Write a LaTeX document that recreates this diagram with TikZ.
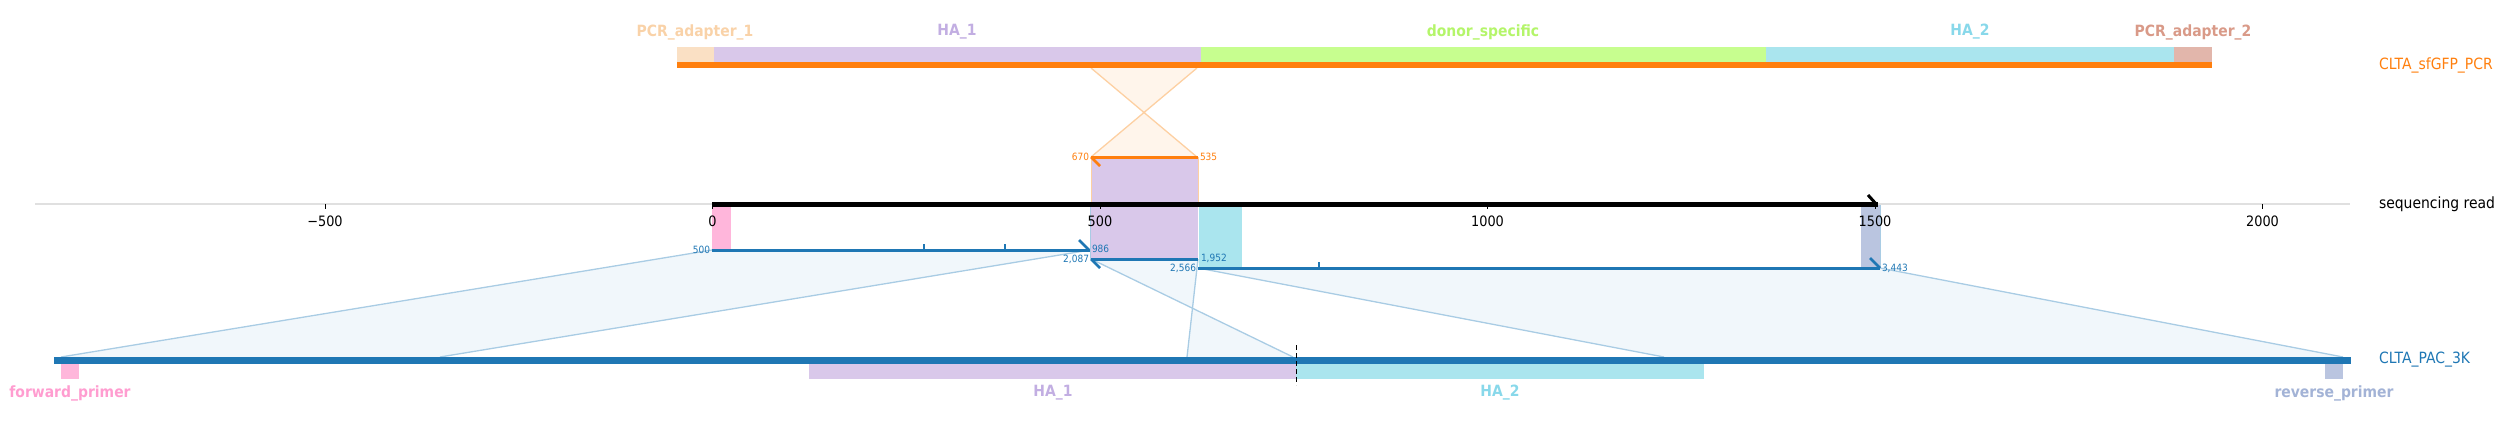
\documentclass[tikz,border=0pt]{standalone}
\usepackage{fontspec}
\setmainfont{DejaVu Sans}[FakeStretch=0.9]
\definecolor{cor}{HTML}{FF7F0E}
\definecolor{cbl}{HTML}{1F77B4}
\definecolor{orfill}{HTML}{FFF5EB}
\definecolor{oredge}{HTML}{FDD0A2}
\definecolor{blfill}{HTML}{F1F7FB}
\definecolor{bledge}{HTML}{A9CCE4}
\definecolor{pcraone}{HTML}{FAE0C4}
\definecolor{pcraonet}{HTML}{F9D2A8}
\definecolor{haone}{HTML}{D9C8EA}
\definecolor{haonet}{HTML}{C2AEE2}
\definecolor{donor}{HTML}{C7FE8F}
\definecolor{donort}{HTML}{B4F56A}
\definecolor{hatwo}{HTML}{AAE5EE}
\definecolor{hatwot}{HTML}{88D8EA}
\definecolor{pcratwo}{HTML}{E2B6AB}
\definecolor{pcratwot}{HTML}{D99A88}
\definecolor{fwd}{HTML}{FFB6DB}
\definecolor{fwdt}{HTML}{FF9DD0}
\definecolor{rev}{HTML}{BAC5E0}
\definecolor{revt}{HTML}{A3B3D6}
\definecolor{axgray}{HTML}{E0E0E0}
\begin{document}
\begin{tikzpicture}[x=1pt,y=-1pt,
  every node/.style={inner sep=0pt,outer sep=0pt},
  featlabel/.style={font=\fontsize{15.5}{15.5}\selectfont\bfseries},
  tracklabel/.style={font=\fontsize{15.5}{15.5}\selectfont,anchor=west},
  ticklabel/.style={font=\fontsize{14.3}{14.3}\selectfont,text=black},
  coord/.style={font=\fontsize{10}{10}\selectfont},
  alnline/.style={line width=3pt,cbl},
  barb/.style={line width=2.5pt},
  link/.style={bledge,line width=1.3pt},
  olink/.style={oredge,line width=1.3pt}]
\useasboundingbox (0,0) rectangle (2504,426);

% ---- link polygons ----
\fill[orfill] (1091,68) -- (1197,157) -- (1091,157) -- (1197,68) -- cycle;
\draw[olink] (1091,68) -- (1197,157) (1197,68) -- (1091,157);
\fill[blfill] (712,250) -- (1090,250) -- (440,357) -- (61,357) -- cycle;
\draw[link] (712,250) -- (61,357) (1090,250) -- (440,357);
\fill[blfill] (1091,259) -- (1293,357) -- (1187,357) -- (1198,259) -- cycle;
\draw[link] (1091,259) -- (1293,357) (1198,259) -- (1187,357);
\fill[blfill] (1198,268) -- (1880,268) -- (2343,357) -- (1664,357) -- cycle;
\draw[link] (1198,268) -- (1664,357) (1880,268) -- (2343,357);

% ---- top track CLTA_sfGFP_PCR ----
\fill[pcraone] (677,47) rectangle (714,62);
\fill[haone] (714,47) rectangle (1201,62);
\fill[donor] (1201,47) rectangle (1766,62);
\fill[hatwo] (1766,47) rectangle (2174,62);
\fill[pcratwo] (2174,47) rectangle (2212,62);
\fill[cor] (677,62) rectangle (2212,68);
\node[featlabel,text=pcraonet] (lpa1) at (695,32) {PCR\_adapter\_1};
\node[featlabel,text=haonet] (lha1t) at (957,32) {HA\_1};
\node[featlabel,text=donort] (ldon) at (1483,32) {donor\_specific};
\node[featlabel,text=hatwot] (lha2t) at (1970,32) {HA\_2};
\node[featlabel,text=pcratwot] (lpa2) at (2193,32) {PCR\_adapter\_2};
\node[tracklabel,text=cor] (tpcr) at (2379,65) {CLTA\_sfGFP\_PCR};

% ---- highlight boxes on the read ----
\fill[haone] (1091,157) rectangle (1198,259);
\draw[oredge,line width=0.8pt] (1091,157) -- (1091,204) (1198,157) -- (1198,204);
\draw[bledge,line width=0.8pt] (1090,204) -- (1090,259) (1199,204) -- (1199,259);
\fill[hatwo] (1199,204) rectangle (1242,267);
\fill[fwd] (712,204) rectangle (731,250);
\fill[rev] (1861,204) rectangle (1880,268);
\draw[bledge,line width=0.8pt] (1880,204) -- (1880,268);

% ---- axis ----
\draw[axgray,line width=1.5pt] (35,204) -- (2350,204);
\foreach \xx in {325,712.5,1100,1487.5,1875,2262.5}{
  \draw[black,line width=0.8pt] (\xx,204) -- (\xx,209);
}
\node[ticklabel] (tkm) at (325,221) {−500};
\node[ticklabel] (tk0) at (712.5,221) {0};
\node[ticklabel] (tk5) at (1100,221) {500};
\node[ticklabel] (tk10) at (1487.5,221) {1000};
\node[ticklabel] (tk15) at (1875,221) {1500};
\node[ticklabel] (tk20) at (2262.5,221) {2000};
\coordinate (rs) at (712,204);
\coordinate (re) at (1878,204);
\draw[black,line width=5pt] (rs) -- (re);
\draw[black,line width=3pt] (1877,205) -- (1868,195);
\node[tracklabel,text=black] (tread) at (2379,204) {sequencing read};

% ---- orange aligned segment ----
\coordinate (os) at (1091,157);
\coordinate (oe) at (1198,157);
\draw[cor,line width=3pt] (os) -- (oe);
\draw[cor,barb] (1091,157) -- (1100,166);
\node[coord,text=cor,anchor=east] (o670) at (1089,157) {670};
\node[coord,text=cor,anchor=west] (o535) at (1200,157) {535};

% ---- blue aligned segments ----
\coordinate (a1s) at (712,250);
\coordinate (a1e) at (1090,250);
\draw[alnline] (a1s) -- (a1e);
\draw[cbl,barb] (1089,250) -- (1079,240);
\draw[cbl,line width=1.5pt] (924,250) -- (924,244) (1005,250) -- (1005,244);
\node[coord,text=cbl,anchor=east] (b500) at (710,250) {500};
\node[coord,text=cbl,anchor=west] (b986) at (1092,249) {986};

\coordinate (a2s) at (1091,259);
\coordinate (a2e) at (1198,259);
\draw[alnline] (a2s) -- (a2e);
\draw[cbl,barb] (1091,259) -- (1100,268);
\node[coord,text=cbl,anchor=east] (b2087) at (1089,259) {2,087};
\node[coord,text=cbl,anchor=west] (b1952) at (1201,258) {1,952};

\coordinate (a3s) at (1198,268);
\coordinate (a3e) at (1880,268);
\draw[alnline] (a3s) -- (a3e);
\draw[cbl,barb] (1880,268) -- (1870,258);
\draw[cbl,line width=1.5pt] (1319,268) -- (1319,262);
\node[coord,text=cbl,anchor=east] (b2566) at (1196,268) {2,566};
\node[coord,text=cbl,anchor=west] (b3443) at (1882,268) {3,443};

% ---- bottom track CLTA_PAC_3K ----
\fill[cbl] (54,357) rectangle (2351,364);
\fill[fwd] (61,364) rectangle (79,379);
\fill[haone] (809,364) rectangle (1296,379);
\fill[hatwo] (1296,364) rectangle (1704,379);
\fill[rev] (2325,364) rectangle (2343,379);
\draw[black,line width=1pt,dash pattern=on 5pt off 3pt] (1296,345) -- (1296,385);
\node[featlabel,text=fwdt] (lfwd) at (70,393) {forward\_primer};
\node[featlabel,text=haonet] (lha1b) at (1053,393) {HA\_1};
\node[featlabel,text=hatwot] (lha2b) at (1500,393) {HA\_2};
\node[featlabel,text=revt] (lrev) at (2334,393) {reverse\_primer};
\node[tracklabel,text=cbl] (tpac) at (2379,360) {CLTA\_PAC\_3K};
\end{tikzpicture}
\end{document}
